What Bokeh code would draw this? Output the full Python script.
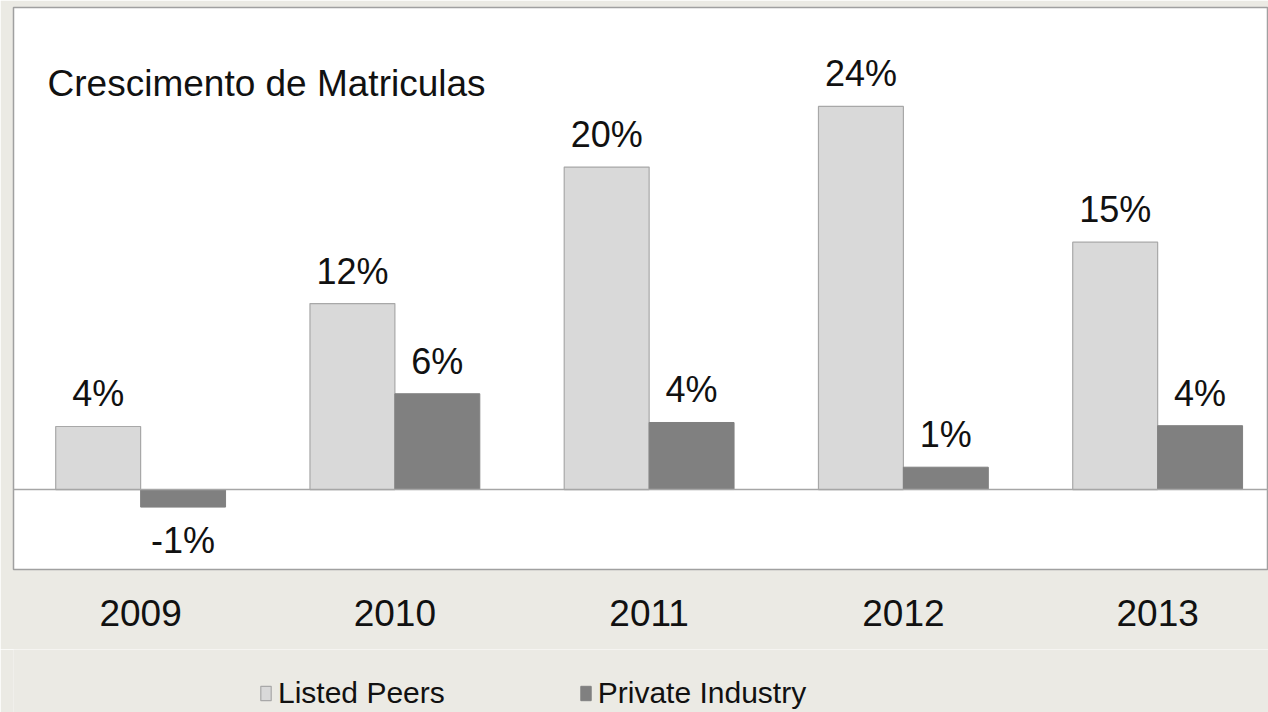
from bokeh.plotting import figure
from bokeh.layouts import column
from bokeh.models import (ColumnDataSource, Range1d, FixedTicker, Span, Label,
                          Legend, LegendItem)
from bokeh.core.properties import value
from bokeh.embed import file_html
from bokeh.resources import INLINE

# ---- data ----
years = ["2009", "2010", "2011", "2012", "2013"]
listed_peers = [3.95, 11.65, 20.2, 24.0, 15.5]
private_industry = [-1.1, 6.0, 4.2, 1.4, 4.0]
listed_labels = ["4%", "12%", "20%", "24%", "15%"]
private_labels = ["-1%", "6%", "4%", "1%", "4%"]
title_text = "Crescimento de Matriculas"
series_names = ["Listed Peers", "Private Industry"]

FONT = "Liberation Sans"
BG = "#ebeae4"
LIGHT = "#d9d9d9"
DARK = "#808080"
EDGE = "#a8a8a8"

idx = list(range(len(years)))
dodge = 0.167
bw = 0.334

p = figure(frame_width=1255, frame_height=562, output_backend="svg",
           toolbar_location=None, x_range=Range1d(-0.5, 4.436),
           y_range=Range1d(-5.01, 30.2),
           min_border_left=13, min_border_right=0, min_border_top=7,
           min_border_bottom=80)
p.border_fill_color = BG
p.background_fill_color = "white"
p.outline_line_color = "#a0a0a0"
p.outline_line_width = 1.5
p.xgrid.visible = False
p.ygrid.visible = False
p.yaxis.visible = False

src_l = ColumnDataSource(dict(x=[i - dodge for i in idx], top=listed_peers,
                              lab=listed_labels))
src_p = ColumnDataSource(dict(x=[i + dodge for i in idx], top=private_industry,
                              lab=private_labels))

bar_l = dict(fill_color=LIGHT, line_color=EDGE, line_width=1.2)
bar_p = dict(fill_color=DARK, line_color=DARK, line_width=1)
p.vbar(x="x", top="top", bottom=0, width=bw, source=src_l, **bar_l)
p.vbar(x="x", top="top", bottom=0, width=bw, source=src_p, **bar_p)

p.add_layout(Span(location=0, dimension="width", line_color="#a6a6a6",
                  line_width=1.5))

# data labels
pos_p = ColumnDataSource(dict(
    x=[x for x, t in zip(src_p.data["x"], private_industry) if t >= 0],
    y=[t for t in private_industry if t >= 0],
    lab=[l for l, t in zip(private_labels, private_industry) if t >= 0]))
neg_p = ColumnDataSource(dict(
    x=[x for x, t in zip(src_p.data["x"], private_industry) if t < 0],
    y=[t for t in private_industry if t < 0],
    lab=[l for l, t in zip(private_labels, private_industry) if t < 0]))

lab_kw = dict(text_font=value(FONT), text_font_size="36px", text_color="#111111",
              text_align="center")
p.text(x="x", y="top", text="lab", source=src_l, text_baseline="bottom",
       y_offset=-12, **lab_kw)
p.text(x="x", y="y", text="lab", source=pos_p, text_baseline="bottom",
       y_offset=-12, **lab_kw)
p.text(x="x", y="y", text="lab", source=neg_p, text_baseline="top",
       y_offset=13, **lab_kw)

# title inside plot
p.add_layout(Label(x=-0.366, y=25.44, text=title_text, text_font=FONT,
                   text_font_size="37px", text_color="#111111",
                   text_baseline="alphabetic"))

# x axis
ax = p.xaxis[0]
ax.ticker = FixedTicker(ticks=idx)
ax.major_label_overrides = {i: y for i, y in zip(idx, years)}
ax.axis_line_color = None
ax.major_tick_line_color = None
ax.minor_tick_line_color = None
ax.major_tick_out = 0
ax.major_tick_in = 0
ax.major_label_standoff = 30
ax.major_label_text_font = FONT
ax.major_label_text_font_size = "37px"
ax.major_label_text_color = "#111111"

# ---- legend strip below the chart ----
leg = figure(width=1268, height=63, output_backend="svg", toolbar_location=None,
             x_range=Range1d(100, 101), y_range=Range1d(100, 101),
             min_border=0)
leg.border_fill_color = BG
leg.background_fill_color = BG
leg.outline_line_color = None
leg.axis.visible = False
leg.grid.visible = False
g1 = leg.vbar(x="x", top="top", bottom=0, width=bw, source=src_l, **bar_l)
g2 = leg.vbar(x="x", top="top", bottom=0, width=bw, source=src_p, **bar_p)

legend = Legend(items=[LegendItem(label=series_names[0], renderers=[g1]),
                       LegendItem(label=series_names[1], renderers=[g2])],
                orientation="horizontal", location=(246, 2),
                glyph_width=13, glyph_height=18, label_standoff=6,
                spacing=134, padding=0, margin=0,
                label_text_font=FONT,
                label_text_font_size="30px", label_text_color="#111111",
                background_fill_alpha=0, border_line_color=None)
leg.add_layout(legend, "center")

layout = column(p, leg, spacing=0)

open("out.html", "w").write(file_html(layout, INLINE))
